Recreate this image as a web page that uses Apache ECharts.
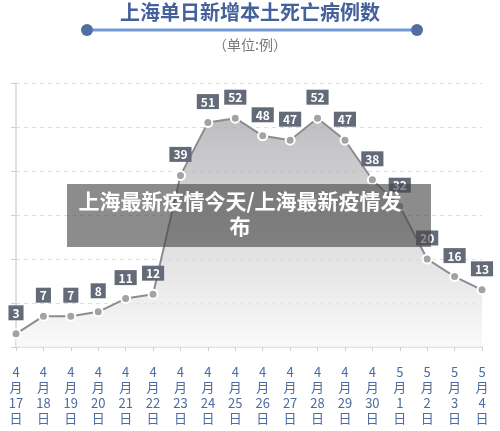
<!DOCTYPE html>
<html>
<head>
<meta charset="utf-8">
<script src="https://cdn.jsdelivr.net/npm/echarts@6/dist/echarts.min.js"></script>
<style>
  html, body { margin: 0; padding: 0; background: #fff; }
  #chart { width: 500px; height: 431px; }
</style>
</head>
<body>
<div id="chart"></div>
<script>
const dates = ['4月17日', '4月18日', '4月19日', '4月20日', '4月21日', '4月22日', '4月23日', '4月24日', '4月25日',
  '4月26日', '4月27日', '4月28日', '4月29日', '4月30日', '5月1日', '5月2日', '5月3日', '5月4日']
const deaths = [3, 7, 7, 8, 11, 12, 39, 51, 52, 48, 47, 52, 47, 38, 32, 20, 16, 13]
const yTicks = [0, 10, 20, 30, 40, 50, 60]

const font = '"Noto Sans CJK SC", "Noto Sans", sans-serif'

const chart = echarts.init(document.getElementById('chart'))

chart.setOption({
  animation: false,
  grid: { left: 16, right: 18, top: 83, bottom: 84 },
  xAxis: {
    type: 'category',
    data: dates,
    boundaryGap: false,
    axisLine: { lineStyle: { color: '#dcdcdc', width: 1.5 } },
    axisTick: { show: true, length: 4, lineStyle: { color: '#cfcfcf' } },
    axisLabel: {
      interval: 0,
      margin: 17,
      color: '#4d6aa3',
      fontSize: 13,
      lineHeight: 15.5,
      fontFamily: font,
      formatter: v => v.replace(/(\d+)月(\d+)日/, '$1\n月\n$2\n日')
    }
  },
  yAxis: {
    type: 'value',
    min: yTicks[0],
    max: yTicks[yTicks.length - 1],
    interval: 10,
    axisLine: { show: true, lineStyle: { color: '#d6d6d6', width: 1.5 } },
    axisTick: { show: true, inside: false, length: 5, lineStyle: { color: '#cfcfcf' } },
    axisLabel: { show: false },
    splitLine: { lineStyle: { color: '#dedede', type: [4, 4] } }
  },
  series: [{
    type: 'line',
    data: deaths,
    symbol: 'circle',
    symbolSize: 9,
    lineStyle: { color: '#8c8c90', width: 2 },
    itemStyle: { color: '#a3a3a6', borderColor: '#fff', borderWidth: 2 },
    areaStyle: {
      color: new echarts.graphic.LinearGradient(0, 0, 0, 1, [
        { offset: 0, color: '#a2a2a6' },
        { offset: 1, color: '#f7f7f8' }
      ])
    },
    label: {
      show: true,
      position: 'top',
      distance: 8,
      color: '#fff',
      fontSize: 12,
      fontWeight: 'bold',
      fontFamily: font,
      backgroundColor: '#646b78',
      padding: [2, 4, 1, 4]
    }
  }],
  graphic: [
    {
      type: 'text', left: 'center', top: 2,
      style: { text: '上海单日新增本土死亡病例数', fill: '#44619a', font: 'bold 20px ' + font }
    },
    {
      type: 'line', shape: { x1: 87, y1: 30, x2: 417, y2: 30 },
      style: { stroke: '#7398d2', lineWidth: 3 }
    },
    { type: 'circle', shape: { cx: 87, cy: 30, r: 6 }, style: { fill: '#526ea3' } },
    { type: 'circle', shape: { cx: 417, cy: 30, r: 6 }, style: { fill: '#526ea3' } },
    {
      type: 'text', left: 'center', top: 38,
      style: { text: '（单位:例）', fill: '#777', font: '14px ' + font }
    },
    {
      type: 'rect', z: 100, shape: { x: 67, y: 184, width: 364, height: 63 },
      style: { fill: 'rgba(70,70,70,0.62)' }
    },
    {
      type: 'text', z: 101, x: 240, y: 189,
      style: {
        text: '上海最新疫情今天/上海最新疫情发\n布', fill: '#fff', align: 'center',
        font: 'bold 21px ' + font, lineHeight: 25
      }
    }
  ]
})
</script>
</body>
</html>
